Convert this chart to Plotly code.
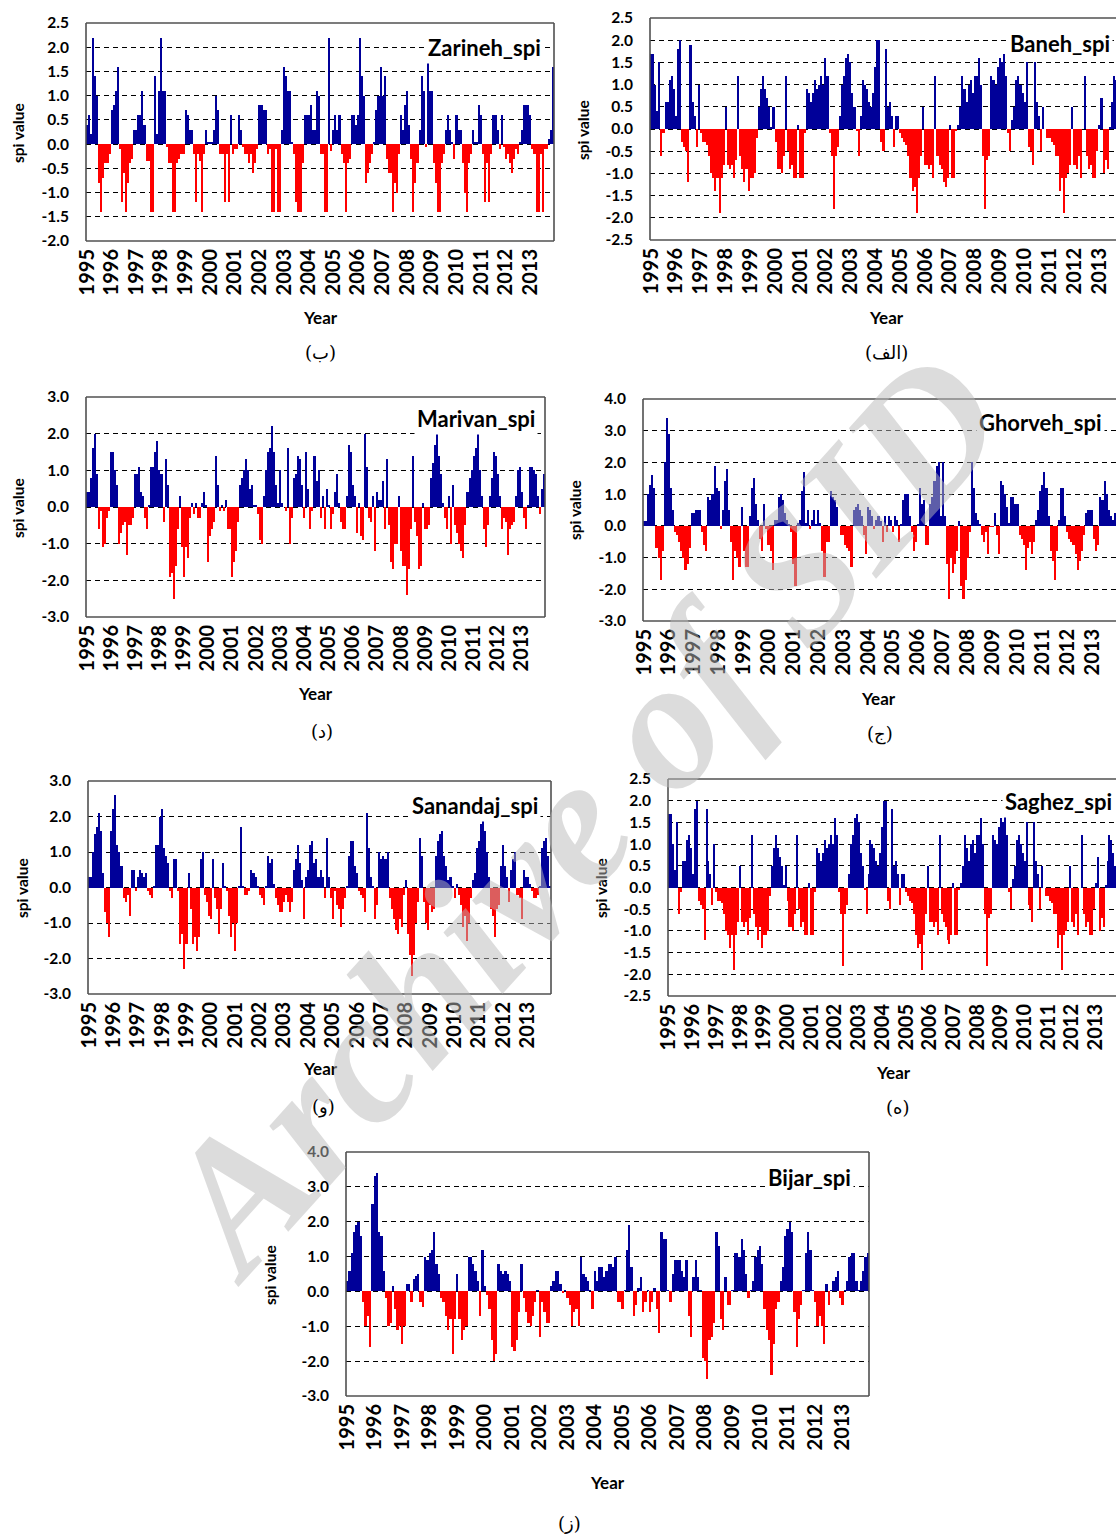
import plotly.graph_objects as go

W, H = 1116, 1537
years = [str(y) for y in range(1995, 2014)]
months = list(range(len(years) * 12))

zarineh = [
    0.4, 0.6, 0.2, 2.2, 1.4, 1.0, -0.8, -1.4, -0.7, -0.4, -0.4, -0.2,
    0.7, 0.8, 1.1, 1.6, -0.1, -1.2, -0.6, -1.4, -0.8, -0.4, -0.3, 0.3,
    0.3, 0.6, 0.6, 1.1, 0.4, -0.35, -0.35, -1.4, -1.4, 1.4, 0.2, 1.1,
    2.2, 1.1, 1.1, -0.05, -0.4, -0.4, -1.4, -1.4, -0.4, -0.3, -0.2, -0.2,
    0.7, 0.6, 0.3, 0.3, -0.2, -1.2, -0.2, -0.35, -1.4, -0.2, 0.3, 0.05,
    0.05, 0.05, 0.3, 1.0, 0.7, -0.2, -0.2, -1.2, -0.2, -1.2, 0.6, -0.2,
    -0.1, -0.1, 0.6, 0.3, -0.05, -0.2, -0.2, -0.4, -0.2, -0.6, -0.4, -0.1,
    0.8, 0.8, 0.7, 0.7, -0.2, -0.1, -1.4, -1.4, -0.1, -1.4, -1.4, 0.3,
    1.6, 1.4, 1.1, 1.1, 0.05, -0.2, -1.2, -1.4, -1.4, -0.4, 0.6, 0.6,
    0.6, 0.8, 0.3, 0.3, 1.1, 1.0, -0.2, -0.2, -1.4, -1.4, 2.2, -0.15,
    0.3, 0.6, 0.3, 0.6, -0.2, -0.4, -1.4, -0.4, -0.3, 0.6, 0.6, 0.4,
    0.6, 2.2, 1.4, 1.0, -0.8, -0.6, -0.4, -0.2, 0.05, 0.7, 1.0, 1.6,
    1.0, 1.4, -0.3, -0.6, -0.6, -1.4, -0.8, -1.0, -0.2, 0.6, 0.3, 0.8,
    1.1, 0.4, -0.3, -1.4, -0.8, -0.4, 0.3, 1.4, 1.1, -0.05, 1.7, 1.1,
    1.1, -0.4, -0.8, -1.4, -1.4, -0.4, -0.2, 0.3, 0.6, 0.3, 0.05, -0.3,
    0.6, 0.3, 0.3, -0.4, -1.0, -1.4, -0.4, -0.2, 0.3, 0.05, 0.05, 0.8,
    0.6, -0.2, -1.2, -0.4, -1.2, -0.2, 0.6, 0.6, 0.3, -0.1, 0.6, -0.05,
    -0.3, -0.2, -0.4, -0.6, -0.3, -0.1, -0.2, 0.05, 0.3, 0.8, 0.8, 0.8,
    0.6, -0.1, -0.2, -1.4, -1.4, -0.2, -1.4, -0.1, -0.1, 0.1, 0.3, 1.6,
]

baneh = [
    1.7, 1.7, 1.0, 0.4, 1.5, -0.6, -0.1, 0.6, 0.6, 1.1, 1.2, 0.9,
    0.3, 1.8, 2.0, -0.3, -0.4, -0.5, -1.2, 1.9, 0.6, 0.3, -0.4, 1.0,
    -0.1, -0.3, -0.3, -0.35, -0.6, -1.0, -1.1, -1.4, -1.1, -1.9, -1.1, -0.8,
    0.5, -0.8, -0.9, -0.8, -1.1, -0.7, 1.2, -0.6, -0.9, -1.2, -0.9, -1.4,
    -1.1, -1.1, -1.0, -0.2, 0.5, 0.9, 1.2, 0.9, 0.7, 0.5, 0.05, 0.5,
    -0.3, -0.9, -0.9, -1.0, -0.6, 1.2, -0.5, -0.9, -0.8, -1.1, -1.1, 0.1,
    -1.1, -1.1, -0.1, 0.9, 0.8, 0.6, 0.8, 1.1, 0.9, 1.0, 1.2, 1.0,
    1.6, 1.2, -0.1, -0.6, -1.8, -0.6, -0.4, 0.3, 1.0, 1.2, 1.6, 1.7,
    1.5, 0.8, 0.5, -0.05, -0.6, 0.3, 1.1, 1.0, 0.9, 0.6, 0.5, 0.8,
    1.4, 2.0, 2.0, -0.3, -0.5, 1.8, 0.5, 0.6, 0.3, -0.4, 0.3, 0.3,
    -0.1, -0.2, -0.3, -0.35, -0.6, -1.1, -1.4, -1.3, -1.9, -1.1, -0.6, 0.5,
    -0.8, -0.8, -0.9, -0.8, -1.1, 1.2, -0.6, -0.8, -0.9, -1.2, -1.3, -1.1,
    0.1, -1.1, -1.1, -0.05, 0.1, 0.5, 1.2, 0.9, 0.6, 1.0, 1.1, 0.8,
    1.2, 1.2, 1.6, 1.0, -0.6, -1.8, -0.7, -0.6, 1.2, 1.1, 1.0, 1.4,
    1.6, 1.5, 1.7, 1.2, -0.1, -0.5, 0.2, 0.5, 1.1, 1.2, 1.0, 0.8,
    0.6, 1.5, -0.4, -0.5, -0.8, 1.5, 0.6, 0.3, -0.5, 0.5, 0.0, -0.2,
    -0.2, -0.3, -0.35, -0.6, -0.6, -1.4, -1.1, -1.9, -1.1, -1.0, -0.8, 0.5,
    -0.8, -0.9, -0.6, -1.1, 0.0, 1.2, -0.6, -0.9, -0.8, -1.1, -1.1, -0.5,
    0.1, 0.7, -1.0, -0.7, -0.9, 0.05, 0.6, 1.2, 1.1, 0.8, 0.5, 0.3,
]

marivan = [
    0.4, 0.4, 0.8, 1.6, 2.0, 0.9, -0.6, -0.1, -1.1, -1.0, -0.3, -0.1,
    1.5, 1.5, 1.0, 0.6, -1.0, -0.7, -0.5, -0.4, -1.3, -0.5, -0.5, -0.3,
    0.9, 0.9, 1.1, 0.4, 0.3, -0.3, -0.6, 0.05, 1.1, 1.1, 1.5, 1.8,
    1.0, 0.9, -0.4, 1.3, 0.6, -1.9, -1.8, -2.5, -1.6, -0.6, 0.3, -1.1,
    -1.9, -1.1, -1.4, -0.3, 0.1, -0.2, 0.1, -0.3, -0.3, 0.1, 0.4, 0.05,
    -1.5, -0.8, -0.6, -0.4, 1.4, 0.6, -0.1, 0.05, -0.1, 0.2, -0.6, -0.6,
    -1.9, -1.5, -1.2, -0.4, 0.6, 0.8, 1.0, 1.3, 1.0, 0.5, 0.6, 0.05,
    0.05, -0.2, -0.9, -1.0, 0.3, 1.0, 1.5, 1.6, 2.2, 1.5, 0.6, 0.1,
    1.0, 0.1, 0.0, -0.1, 1.6, -1.0, -0.3, 0.8, 0.9, 1.4, 1.3, 0.6,
    -0.3, 1.5, 0.5, -0.6, -0.1, 1.4, 0.7, 1.0, -0.3, 0.3, -0.6, 0.5,
    0.05, -0.6, -0.2, 0.4, 0.9, 0.1, -0.4, -0.6, -0.6, 0.3, 1.7, 1.5,
    0.6, 0.3, -0.7, 0.1, -0.8, -0.9, 2.0, 1.1, -0.3, -0.4, 0.3, -1.2,
    0.4, 0.2, 0.2, 0.7, -0.6, 1.3, -0.5, -1.5, -1.7, -1.0, -1.0, 0.3,
    -1.2, -1.6, -1.6, -2.4, -1.7, -0.6, 1.4, -0.4, -0.8, -1.7, -1.6, 0.1,
    -0.6, -0.6, -0.5, 0.8, 1.2, 1.7, 2.0, 1.4, 0.9, 0.1, -0.3, -0.6,
    0.3, -1.0, 0.6, -0.5, -0.7, -1.0, -1.2, -1.4, -0.5, 0.4, 0.8, 1.0,
    1.4, 1.6, 2.0, 1.0, 0.3, -0.6, -1.1, -0.5, 0.3, 0.8, 1.5, 1.4,
    0.9, 0.3, -0.6, -0.3, -0.4, -1.3, -0.6, -0.5, -0.4, 0.3, 1.0, 1.1,
    0.4, -0.3, -0.6, 0.05, 1.1, 1.1, 1.0, 0.9, 0.3, -0.2, 0.5, 0.9,
]

ghorveh = [
    0.15, 0.15, 1.0, 1.3, 1.6, 1.2, -0.7, -1.0, -1.7, -0.8, 2.0, 3.4,
    2.9, 1.2, 0.5, -0.2, -0.3, -0.5, -0.8, -1.0, -1.4, -1.2, -0.7, 0.4,
    0.4, 0.5, 0.5, 0.5, -0.2, -0.6, -0.8, 0.9, 0.8, 1.0, 1.9, 1.2,
    1.1, -0.1, 0.5, 1.4, 1.8, 0.5, -0.5, -1.7, -0.8, -1.0, -1.3, 0.6,
    -0.8, -1.3, -1.3, 0.3, 1.2, 1.5, 0.7, 0.2, -0.4, -0.8, 0.7, -0.1,
    -0.6, -0.8, -1.4, 0.2, 0.2, 0.9, 1.0, 0.8, 0.4, 0.2, 0.05, -0.2,
    -1.2, -1.9, 0.1, 0.2, 1.1, 1.7, 0.1, 0.5, -0.1, 0.2, 0.5, 0.05,
    0.5, 0.1, -0.8, -1.6, -0.5, -0.5, 1.1, 0.9, 0.8, 0.6, 0.0, -0.3,
    -0.3, -0.6, -0.7, -0.8, -1.3, 0.5, 0.6, 0.7, 0.5, 0.3, -0.3, -0.9,
    0.6, 0.5, 0.3, -0.1, 0.2, 0.3, 0.15, -0.5, 0.3, -0.2, 0.3, 0.2,
    -0.2, 0.3, 0.2, -0.5, 0.05, 0.8, 1.0, 1.0, 0.3, -0.2, -0.8, -0.5,
    0.05, 1.2, 0.7, 0.8, -0.6, -0.6, 0.7, 0.9, 1.4, 1.9, 2.0, 0.3,
    2.0, 0.3, -1.2, -2.3, -1.0, -1.5, -1.2, -0.8, 0.15, -1.9, -2.3, -1.7,
    -1.0, -0.2, 2.0, 1.2, 0.4, 0.2, 0.05, -0.3, -0.5, -0.2, -0.9, -0.05,
    -0.05, 0.4, -0.3, -0.9, 1.4, 1.3, 1.0, 0.6, 0.1, 0.9, 0.9, 0.7,
    0.7, -0.3, -0.4, -0.6, -1.4, -0.7, -0.5, -0.9, -0.5, 0.2, 0.5, 1.1,
    1.3, 1.7, 1.2, 0.3, -0.8, -1.1, -1.7, -0.8, 0.2, 1.2, 1.2, 0.3,
    -0.2, -0.4, -0.5, -0.6, -0.9, -1.4, -1.1, -0.8, -0.3, 0.4, 0.5, 0.5,
    0.5, -0.4, -0.8, -0.6, 0.9, 0.8, 1.4, 1.0, 0.5, 0.3, 0.2, 0.4,
]

sanandaj = [
    0.3, 0.3, 1.0, 1.5, 1.7, 2.1, 1.6, 0.4, -0.7, -1.0, -1.4, 1.6,
    2.2, 2.6, 1.2, 1.0, 0.6, -0.3, -0.4, -0.2, -0.8, 0.5, 0.5, -0.1,
    0.3, 0.5, 0.4, 0.3, 0.4, -0.1, -0.2, -0.3, 0.05, 1.2, 1.2, 2.0,
    2.2, 1.1, 0.9, 0.7, -0.1, -0.3, 0.8, 0.8, -0.1, -1.6, -1.3, -2.3,
    -1.6, 0.4, -0.6, -1.6, -1.4, -1.8, -1.4, 0.8, 1.0, -0.2, -0.4, -0.8,
    -0.9, 0.8, -0.3, -0.6, -1.3, -0.6, 0.7, 0.05, -0.1, -0.8, -1.4, -1.0,
    -1.8, -1.0, 0.05, 1.7, 0.05, -0.2, -0.2, -0.1, 0.5, 0.4, 0.3, 0.05,
    -0.2, -0.3, -0.5, 0.05, 0.9, 0.7, 0.8, 0.1, -0.3, -0.5, -0.7, -0.7,
    -0.4, -0.2, -0.4, -0.7, -0.4, 0.5, 0.8, 1.2, 0.7, 0.2, -0.9, 0.3,
    0.5, 1.2, 1.3, 0.7, 0.8, 0.3, 0.5, 0.3, -0.3, 1.4, 0.3, -0.3,
    -0.9, -0.1, -0.5, -0.6, -1.1, -0.6, -0.3, 0.05, 0.9, 1.3, 1.3, 0.6,
    0.4, -0.1, -0.2, -0.3, -0.7, 2.1, 1.1, 0.3, 0.05, -0.9, -0.5, 1.0,
    0.8, 0.9, 0.8, 1.0, -0.3, -0.6, -0.9, -1.2, -1.3, -0.9, -1.1, -0.2,
    0.2, -1.3, -1.9, -2.5, -1.9, -1.0, -0.4, 1.4, 0.9, -0.4, -1.0, -1.2,
    -0.5, -0.7, -0.6, 0.9, 1.3, 1.5, 1.6, 0.9, 0.6, 0.2, 0.3, 0.05,
    -0.3, 0.1, -0.2, -0.5, -1.1, -0.8, -1.5, -1.0, -0.3, 0.2, 0.4, 1.1,
    1.3, 1.8, 1.9, 1.6, 1.0, 0.3, -0.6, -0.8, -1.4, -0.6, -0.5, 0.6,
    1.2, 0.6, 0.3, -0.4, 0.5, 0.8, 1.0, -0.2, -0.3, -0.9, 0.5, 0.3,
    0.3, 0.1, -0.1, -0.3, -0.3, -0.2, 0.05, 1.1, 1.3, 1.4, 0.9, 0.05,
]

saghez = [
    1.7, 1.7, 1.0, 0.4, 1.5, -0.6, -0.1, 0.6, 0.6, 1.1, 1.2, 0.9,
    0.3, 1.8, 2.0, -0.3, -0.4, -0.5, -1.2, 1.8, 0.6, 0.3, -0.4, 1.0,
    -0.1, -0.3, -0.3, -0.35, -0.6, -1.0, -1.1, -1.4, -1.1, -1.9, -1.1, -0.8,
    0.5, -0.8, -0.9, -0.8, -1.1, -0.7, 1.2, -0.6, -0.9, -1.2, -0.9, -1.4,
    -1.1, -1.1, -1.0, -0.2, 0.5, 0.9, 1.2, 0.9, 0.7, 0.5, 0.05, 0.5,
    -0.3, -0.9, -0.9, -1.0, -0.6, 1.2, -0.5, -0.9, -0.8, -1.1, -1.1, 0.1,
    -1.1, -1.1, -0.1, 0.9, 0.8, 0.6, 0.8, 1.1, 0.9, 1.0, 1.2, 1.0,
    1.6, 1.2, -0.1, -0.6, -1.8, -0.6, -0.4, 0.3, 1.0, 1.2, 1.6, 1.7,
    1.5, 0.8, 0.5, -0.05, -0.6, 0.3, 1.1, 1.0, 0.9, 0.6, 0.5, 0.8,
    1.4, 2.0, 2.0, -0.3, -0.5, 1.8, 0.5, 0.6, 0.3, -0.4, 0.3, 0.3,
    -0.1, -0.2, -0.3, -0.35, -0.6, -1.1, -1.4, -1.3, -1.9, -1.1, -0.6, 0.5,
    -0.8, -0.8, -0.9, -0.8, -1.1, 1.2, -0.6, -0.8, -0.9, -1.2, -1.3, -1.1,
    0.1, -1.1, -1.1, -0.05, 0.1, 0.5, 1.2, 0.9, 0.6, 1.0, 1.1, 0.8,
    1.2, 1.2, 1.6, 1.0, -0.6, -1.8, -0.7, -0.6, 1.2, 1.1, 1.0, 1.4,
    1.6, 1.5, 1.7, 1.2, -0.1, -0.5, 0.2, 0.5, 1.1, 1.2, 1.0, 0.8,
    0.6, 1.5, -0.4, -0.5, -0.8, 1.5, 0.6, 0.3, -0.5, 0.5, 0.0, -0.2,
    -0.2, -0.3, -0.35, -0.6, -0.6, -1.4, -1.1, -1.9, -1.1, -1.0, -0.8, 0.5,
    -0.8, -0.9, -0.6, -1.1, 0.0, 1.2, -0.6, -0.9, -0.8, -1.1, -1.1, -0.5,
    0.1, 0.7, -1.0, -0.7, -0.9, 0.05, 0.6, 1.2, 1.1, 0.8, 0.5, 0.3,
]

bijar = [
    0.3, 0.6, 1.1, 1.7, 1.9, 2.0, 1.6, -0.3, -1.0, -0.7, -1.6, 2.5,
    3.3, 3.4, 1.7, 1.6, 0.6, -0.2, -1.0, -0.9, 0.15, -0.5, -1.1, -1.0,
    -1.5, -1.0, 0.2, 0.2, -0.3, 0.35, 0.45, 0.5, -0.3, -0.45, 1.0, 0.9,
    1.1, 1.2, 1.7, 0.8, 0.5, -0.2, -0.3, -0.7, -1.1, -0.8, -1.8, -0.8,
    0.5, -0.8, -1.4, -1.1, -1.0, 1.0, 1.0, 0.8, 0.6, 0.3, -0.7, 1.2,
    0.15, -0.1, -0.5, -1.4, -2.0, -1.8, 0.8, 0.6, 0.5, 0.6, 0.5, 0.3,
    -1.6, -1.7, -1.4, -0.6, 0.8, -0.2, -0.6, -0.9, -1.0, -0.7, -0.3, 0.05,
    -1.3, -0.3, -0.6, -0.9, -0.9, 0.15, 0.3, 0.6, 0.6, 0.2, -0.05, 0.05,
    -0.2, -0.4, -1.0, -0.6, -0.5, -1.0, 1.0, 0.5, 0.4, 0.3, 0.05, -0.5,
    0.6, 0.3, 0.7, 0.7, 0.4, 0.6, 0.8, 0.8, 0.7, 1.0, -0.3, -0.3,
    -0.5, 0.05, 1.2, 1.9, 0.7, -0.7, -0.4, 0.1, 0.4, -0.6, -0.3, 0.05,
    -0.6, -0.3, 0.1, -0.5, -1.2, 1.7, 1.5, 1.5, 0.05, -0.3, 0.5, 0.9,
    0.9, 0.9, 0.6, 0.4, 0.9, -0.7, -1.3, 0.4, 0.9, 0.4, 0.05, -1.9,
    -2.0, -2.5, -1.4, -1.3, -0.9, 1.7, 1.3, -0.8, -1.1, 0.4, -0.4, -0.4,
    0.05, 1.1, 1.1, 1.0, 1.5, 1.2, 0.5, -0.2, 0.05, 0.3, 1.0, 1.2,
    1.3, 0.8, -0.5, -1.1, -1.4, -2.4, -1.5, -0.5, -0.3, 0.3, 0.7, 1.6,
    1.8, 2.0, 1.7, -0.6, -1.6, -0.8, -0.4, 0.05, 1.1, 1.7, 1.2, 0.05,
    -0.3, -1.0, -0.7, -1.0, -1.5, 0.2, -0.4, 0.05, 0.3, 0.4, 0.6, -0.2,
    -0.4, 0.05, 0.3, 1.0, 1.1, 1.1, 0.3, 0.05, 0.3, 0.6, 1.0, 1.1,
]

# layout configuration (pixel boxes of each panel, in page coordinates)
panels = [
    dict(title="Zarineh_spi", data=zarineh, box=(86, 554, 23, 241), yr=(-2, 2.5), dt=0.5,
         xend=227.5, clip=False, tpos=(484, 47), ylab=(18, 133), year=(320, 317), lab=("(ب)", 320, 352)),
    dict(title="Baneh_spi", data=baneh, box=(650, 1116, 18, 240), yr=(-2.5, 2.5), dt=0.5,
         xend=224.0, clip=True, tpos=(1060, 43), ylab=(583, 130), year=(886, 318), lab=("(الف)", 886, 352)),
    dict(title="Marivan_spi", data=marivan, box=(86, 545, 397, 617), yr=(-3, 3), dt=1.0,
         xend=227.5, clip=False, tpos=(476, 419), ylab=(18, 508), year=(315, 694), lab=("(د)", 322, 731)),
    dict(title="Ghorveh_spi", data=ghorveh, box=(643, 1116, 399, 621), yr=(-3, 4), dt=1.0,
         xend=227.5, clip=True, tpos=(1040, 422), ylab=(575, 510), year=(878, 698), lab=("(ج)", 880, 734)),
    dict(title="Sanandaj_spi", data=sanandaj, box=(88, 551, 781, 994), yr=(-3, 3), dt=1.0,
         xend=227.5, clip=False, tpos=(475, 805), ylab=(22, 888), year=(320, 1068), lab=("(و)", 323, 1107)),
    dict(title="Saghez_spi", data=saghez, box=(668, 1116, 779, 996), yr=(-2.5, 2.5), dt=0.5,
         xend=226.3, clip=True, tpos=(1058, 801), ylab=(601, 888), year=(893, 1072), lab=("(ه)", 898, 1107)),
    dict(title="Bijar_spi", data=bijar, box=(346, 869, 1152, 1396), yr=(-3, 4), dt=1.0,
         xend=227.5, clip=False, tpos=(809, 1177), ylab=(270, 1275), year=(607, 1482), lab=("(ز)", 569, 1523)),
]

BLUE = "#000099"
RED = "#ff0000"
FONT = "Lato"
FRAME = "#505050"


def px(x):
    return x / W


def py(y):
    return 1 - y / H


def ticks_for(lo, hi, step):
    n = int(round((hi - lo) / step))
    vals = [round(lo + k * step, 2) for k in range(n + 1)]
    txt = [f"{v:.1f}" for v in vals]
    return vals, txt


fig = go.Figure()
annotations = []
shapes = []
layout_axes = {}

for i, p in enumerate(panels, start=1):
    xa = "x" if i == 1 else f"x{i}"
    ya = "y" if i == 1 else f"y{i}"
    xkey = "xaxis" if i == 1 else f"xaxis{i}"
    ykey = "yaxis" if i == 1 else f"yaxis{i}"
    x0, x1, y0, y1 = p["box"]
    vals = p["data"]
    colors = [BLUE if v >= 0 else RED for v in vals]
    fig.add_trace(go.Bar(x=months, y=vals, marker=dict(color=colors, line=dict(width=0)),
                         width=1.0, xaxis=xa, yaxis=ya, showlegend=False, hoverinfo="skip"))
    layout_axes[xkey] = dict(
        domain=[px(x0), px(x1)], anchor=ya, range=[-0.5, p["xend"]],
        tickmode="array", tickvals=[12 * k for k in range(len(years))], ticktext=years,
        tickangle=-90, tickfont=dict(family=FONT, size=20, color="black", weight="bold"),
        showgrid=False, zeroline=False, showline=False, ticks="", ticklabelstandoff=3,
        fixedrange=True, automargin=False,
    )
    tv, tt = ticks_for(p["yr"][0], p["yr"][1], p["dt"])
    layout_axes[ykey] = dict(
        domain=[py(y1), py(y0)], anchor=xa, range=list(p["yr"]),
        tickmode="array", tickvals=tv, ticktext=tt,
        tickfont=dict(family=FONT, size=15.5, color="black", weight="bold"),
        showgrid=True, gridcolor="black", gridwidth=1, griddash="5px,4px",
        zeroline=False, showline=False, ticks="", ticklabelstandoff=16, fixedrange=True,
        automargin=False,
    )
    # frame
    xd = f"{xa} domain"
    yd = f"{ya} domain"
    lines = [(0, 0, 0, 1), (0, 1, 1, 1), (0, 0, 1, 0)]
    if not p["clip"]:
        lines.append((1, 0, 1, 1))
    for (a, b, c, d) in lines:
        shapes.append(dict(type="line", xref=xd, yref=yd, x0=a, y0=b, x1=c, y1=d,
                           line=dict(color=FRAME, width=1.6), layer="above"))
    common = dict(xref="paper", yref="paper", showarrow=False, xanchor="center", yanchor="middle")
    annotations.append(dict(text=p["title"], x=px(p["tpos"][0]), y=py(p["tpos"][1]),
                            bgcolor="white", borderpad=2,
                            font=dict(family=FONT, size=22, color="black", weight="bold"), **common))
    annotations.append(dict(text="spi value", x=px(p["ylab"][0]), y=py(p["ylab"][1]), textangle=-90,
                            font=dict(family=FONT, size=15.5, color="black", weight="bold"), **common))
    annotations.append(dict(text="Year", x=px(p["year"][0]), y=py(p["year"][1]),
                            font=dict(family=FONT, size=17, color="black", weight="bold"), **common))
    lt, lx, ly = p["lab"]
    annotations.append(dict(text=lt, x=px(lx), y=py(ly),
                            font=dict(family="DejaVu Serif, DejaVu Sans", size=18, color="black"), **common))

# watermark
annotations.append(dict(text="Archive of SID", x=px(580), y=py(815), xref="paper", yref="paper",
                        showarrow=False, textangle=-48, xanchor="center", yanchor="middle",
                        font=dict(family="Liberation Serif", size=185, color="rgba(185,185,185,0.5)",
                                  weight="bold", style="italic")))

fig.update_layout(
    template="none",
    width=W, height=H, margin=dict(l=0, r=0, t=0, b=0, autoexpand=False),
    paper_bgcolor="white", plot_bgcolor="white",
    bargap=0, barmode="overlay",
    annotations=annotations, shapes=shapes,
    **layout_axes,
)

fig.write_html("out.html", config={"displayModeBar": False, "staticPlot": True},
               post_script="document.body.style.margin='0';document.body.style.overflow='hidden';")
